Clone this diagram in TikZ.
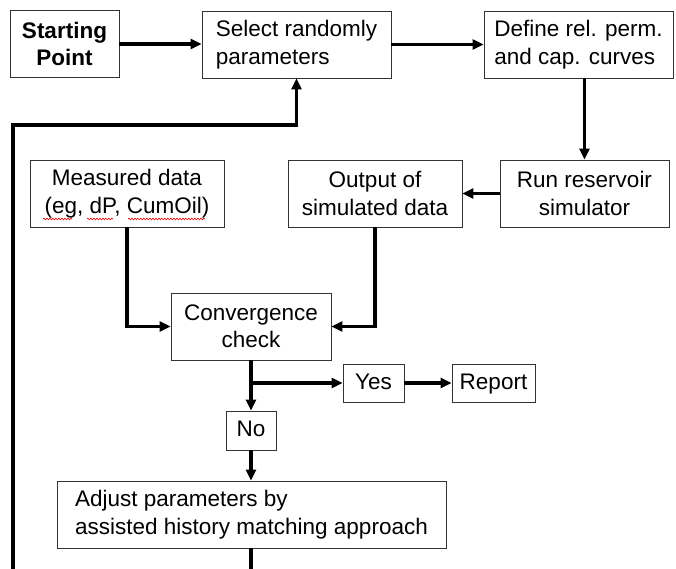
\documentclass[tikz,border=0pt]{standalone}
\usepackage{fontspec}
\setmainfont{Liberation Sans}
\usetikzlibrary{arrows.meta,decorations.pathmorphing}

\begin{document}
\begin{tikzpicture}[x=1pt,y=-1pt,
  every node/.style={font=\fontsize{22.5}{27.5}\selectfont},
  box/.style={draw=black!80,line width=0.9pt,inner sep=0pt,minimum height=67pt,align=center},
  small/.style={minimum height=38pt,text height=16.5pt,text depth=4.5pt},
  flow/.style={line width=3.2pt,-{Triangle[length=11pt,width=10pt]}},
  squiggle/.style={red!85!black,line width=0.6pt,decorate,decoration={snake,amplitude=0.8pt,segment length=3pt}}]
\useasboundingbox (0,0) rectangle (676,569);
% top row
\node[box,minimum width=109pt,font=\fontsize{22.5}{27.5}\selectfont\bfseries] (start) at (64.5,44) {Starting\\Point};
\node[box,minimum width=189pt,align=left] (select) at (296.5,44.5) {Select randomly\\parameters};
\node[box,minimum width=189pt,align=left] (define) at (578.5,44.5) {Define rel. perm.\\and cap. curves};
% data row
\node[box,minimum width=194pt] (measured) at (127,193.5) {Measured data\\(eg, dP, CumOil)};
\node[box,minimum width=174pt] (output) at (375,193.5) {Output of\\simulated data};
\node[box,minimum width=169pt] (run) at (584.5,193.5) {Run reservoir\\simulator};
\draw[squiggle] (43,219) -- (72,219);
\draw[squiggle] (87,219) -- (113,219);
\draw[squiggle] (128,219) -- (205,219);
% check and decision
\node[box,minimum width=160pt] (conv) at (251,326.5) {Convergence\\check};
\node[box,small,minimum width=61pt] (yes) at (373.5,383) {Yes};
\node[box,small,minimum width=83pt] (report) at (493.5,383) {Report};
\node[box,small,minimum width=50pt,minimum height=39pt] (no) at (251,430.5) {No};
\node[box,minimum width=389pt,align=left] (adjust) at (251.5,514.5) {Adjust parameters by\\assisted history matching approach};
% connectors
\draw[flow] (start.east) -- (start.east -| select.west);
\draw[flow] (select.east) -- (define.west);
\draw[flow] (define.south -| run.north) -- (run.north);
\draw[flow] (run.west) -- (output.east);
\draw[flow] (measured.south) |- (conv.west);
\draw[flow] (output.south) |- (conv.east);
\draw[flow] (conv.south) -- (no.north);
\draw[flow] (conv.south |- yes.west) -- (yes.west);
\draw[flow] (yes.east) -- (report.west);
\draw[flow] (no.south) -- (no.south |- adjust.north);
% loop back (runs off the bottom)
\coordinate (adjout) at (251,569);
\coordinate (loopin) at (13,569);
\coordinate (loop) at (13,125);
\draw[line width=3.2pt] (adjust.south -| adjout) -- (adjout);
\draw[flow] (loopin) -- (loop) -| (select.south);
\end{tikzpicture}
\end{document}
